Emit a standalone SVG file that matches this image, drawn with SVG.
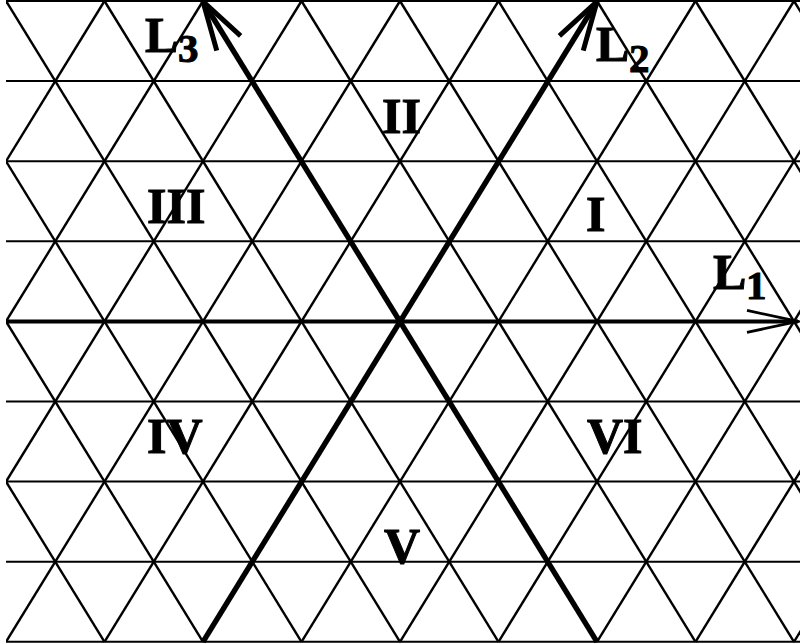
<svg xmlns="http://www.w3.org/2000/svg" width="804" height="644" viewBox="0 0 804 644">
<style>
.h{stroke:#000;stroke-width:2;fill:none}
.d{stroke:#000;stroke-width:2.4;fill:none}
.ax{stroke:#000;stroke-width:5.4;fill:none;stroke-linecap:butt}
.ax1{stroke:#000;stroke-width:4;fill:none}
.lb{font-family:"Liberation Serif","Times New Roman",serif;font-weight:bold;font-size:50px;fill:#000;stroke:#000;stroke-width:1}
.sub{font-size:41px}
</style>
<defs>
<clipPath id="frame"><rect x="6" y="0" width="794" height="644"/></clipPath>
<marker id="ahB" markerUnits="userSpaceOnUse" markerWidth="70" markerHeight="40" viewBox="-60 -20 70 40" refX="0" refY="0" orient="auto" overflow="visible">
<path d="M-49,-14 L0,0 L-49,14" fill="none" stroke="#000" stroke-width="5" stroke-linejoin="round"/>
</marker>
<marker id="ahT" markerUnits="userSpaceOnUse" markerWidth="70" markerHeight="40" viewBox="-60 -20 70 40" refX="0" refY="0" orient="auto" overflow="visible">
<path d="M-51,-11 L0,0 L-51,11" fill="none" stroke="#000" stroke-width="2.8" stroke-linejoin="round"/>
</marker>
</defs>
<rect width="804" height="644" fill="#fff"/>
<g id="lattice" clip-path="url(#frame)">
<g id="horizontals">
<line class="h" x1="6" y1="1" x2="800" y2="1"/>
<line class="h" x1="6" y1="81.1" x2="800" y2="81.1"/>
<line class="h" x1="6" y1="161.2" x2="800" y2="161.2"/>
<line class="h" x1="6" y1="241.3" x2="800" y2="241.3"/>
<line class="h" x1="6" y1="321.4" x2="800" y2="321.4"/>
<line class="h" x1="6" y1="401.5" x2="800" y2="401.5"/>
<line class="h" x1="6" y1="481.6" x2="800" y2="481.6"/>
<line class="h" x1="6" y1="561.7" x2="800" y2="561.7"/>
<line class="h" x1="6" y1="641.8" x2="800" y2="641.8"/>
</g>
<g id="diagA">
<line class="d" x1="-289.5" y1="641.8" x2="104.5" y2="1"/>
<line class="d" x1="-191" y1="641.8" x2="203" y2="1"/>
<line class="d" x1="-92.5" y1="641.8" x2="301.5" y2="1"/>
<line class="d" x1="6" y1="641.8" x2="400" y2="1"/>
<line class="d" x1="104.5" y1="641.8" x2="498.5" y2="1"/>
<line class="d" x1="203" y1="641.8" x2="597" y2="1"/>
<line class="d" x1="301.5" y1="641.8" x2="695.5" y2="1"/>
<line class="d" x1="400" y1="641.8" x2="794" y2="1"/>
<line class="d" x1="498.5" y1="641.8" x2="892.5" y2="1"/>
<line class="d" x1="597" y1="641.8" x2="991" y2="1"/>
<line class="d" x1="695.5" y1="641.8" x2="1089.5" y2="1"/>
<line class="d" x1="794" y1="641.8" x2="1188" y2="1"/>
</g>
<g id="diagB">
<line class="d" x1="-289.5" y1="1" x2="104.5" y2="641.8"/>
<line class="d" x1="-191" y1="1" x2="203" y2="641.8"/>
<line class="d" x1="-92.5" y1="1" x2="301.5" y2="641.8"/>
<line class="d" x1="6" y1="1" x2="400" y2="641.8"/>
<line class="d" x1="104.5" y1="1" x2="498.5" y2="641.8"/>
<line class="d" x1="203" y1="1" x2="597" y2="641.8"/>
<line class="d" x1="301.5" y1="1" x2="695.5" y2="641.8"/>
<line class="d" x1="400" y1="1" x2="794" y2="641.8"/>
<line class="d" x1="498.5" y1="1" x2="892.5" y2="641.8"/>
<line class="d" x1="597" y1="1" x2="991" y2="641.8"/>
<line class="d" x1="695.5" y1="1" x2="1089.5" y2="641.8"/>
<line class="d" x1="794" y1="1" x2="1188" y2="641.8"/>
</g>
</g>
<g id="connectors">
<path id="axisL1" class="ax1" d="M6,321.4 L798,321.4" marker-end="url(#ahT)"/>
<path id="axisL2" class="ax" d="M203,641.8 L597,1.5" marker-end="url(#ahB)"/>
<path id="axisL3" class="ax" d="M597,641.8 L203,1.5" marker-end="url(#ahB)"/>
</g>
<g id="label-L1"><text class="lb" x="713" y="289">L<tspan class="sub" x="746" y="299">1</tspan></text></g>
<g id="label-L2"><text class="lb" x="596" y="61">L<tspan class="sub" x="629" y="72">2</tspan></text></g>
<g id="label-L3"><text class="lb" x="145" y="52">L<tspan class="sub" x="178" y="62">3</tspan></text></g>
<g id="region-I"><text class="lb" x="586" y="231">I</text></g>
<g id="region-II"><text class="lb" x="382" y="133">II</text></g>
<g id="region-III"><text class="lb" x="147" y="223">III</text></g>
<g id="region-IV"><text class="lb" x="147" y="453">IV</text></g>
<g id="region-V"><text class="lb" x="384" y="563">V</text></g>
<g id="region-VI"><text class="lb" x="587" y="453">VI</text></g>
</svg>
